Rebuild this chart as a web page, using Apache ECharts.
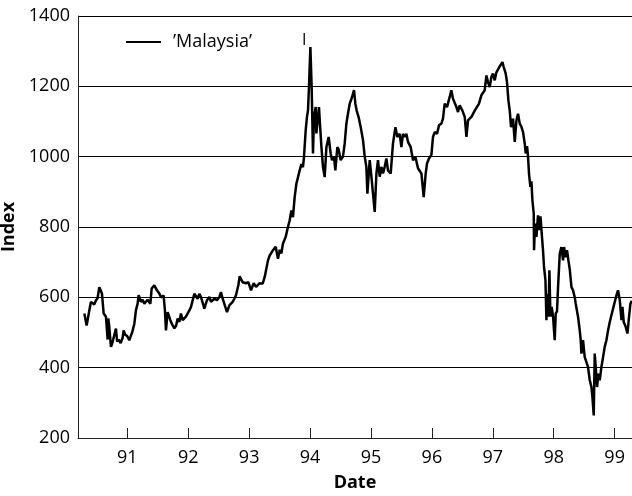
<!DOCTYPE html>
<html>
<head>
<meta charset="utf-8">
<script src="https://cdn.jsdelivr.net/npm/echarts@6/dist/echarts.min.js"></script>
<style>
html,body{margin:0;padding:0;background:#fff;}
#chart{width:632px;height:496px;}
</style>
</head>
<body>
<div id="chart"></div>
<script>
// Decimal year (e.g. 93.5 = mid-1993)
const dates = [
90.294, 90.332, 90.376, 90.402, 90.430, 90.458, 90.484, 90.512, 90.540, 90.567,
90.583, 90.611, 90.649, 90.665, 90.677, 90.688, 90.701, 90.731, 90.750, 90.775,
90.813, 90.833, 90.857, 90.890, 90.923, 90.939, 90.964, 90.997, 91.033, 91.054,
91.079, 91.115, 91.141, 91.169, 91.186, 91.223, 91.251, 91.279, 91.333, 91.378,
91.399, 91.443, 91.486, 91.525, 91.552, 91.596, 91.617, 91.634, 91.662, 91.706,
91.744, 91.772, 91.801, 91.826, 91.854, 91.880, 91.908, 91.962, 91.990, 92.018,
92.044, 92.072, 92.100, 92.126, 92.154, 92.182, 92.209, 92.236, 92.264, 92.307,
92.347, 92.373, 92.429, 92.471, 92.511, 92.537, 92.565, 92.593, 92.636, 92.675,
92.729, 92.757, 92.783, 92.823, 92.844, 92.893, 92.948, 92.987, 93.030, 93.074,
93.112, 93.168, 93.222, 93.255, 93.309, 93.337, 93.391, 93.435, 93.473, 93.501,
93.529, 93.555, 93.599, 93.637, 93.665, 93.693, 93.719, 93.747, 93.775, 93.801,
93.829, 93.857, 93.883, 93.900, 93.928, 93.949, 93.966, 93.982, 94.005, 94.026,
94.048, 94.064, 94.092, 94.103, 94.125, 94.146, 94.169, 94.186, 94.212, 94.240,
94.268, 94.305, 94.338, 94.360, 94.392, 94.415, 94.448, 94.470, 94.502, 94.540,
94.568, 94.596, 94.622, 94.650, 94.688, 94.721, 94.744, 94.765, 94.798, 94.831,
94.869, 94.897, 94.924, 94.941, 94.979, 95.007, 95.033, 95.061, 95.089, 95.115,
95.143, 95.171, 95.197, 95.225, 95.253, 95.279, 95.323, 95.361, 95.401, 95.433,
95.471, 95.499, 95.525, 95.553, 95.581, 95.608, 95.652, 95.690, 95.729, 95.772,
95.800, 95.828, 95.865, 95.898, 95.920, 95.952, 95.992, 96.018, 96.046, 96.084,
96.117, 96.156, 96.182, 96.210, 96.248, 96.292, 96.320, 96.346, 96.402, 96.429,
96.456, 96.501, 96.539, 96.567, 96.593, 96.621, 96.649, 96.675, 96.703, 96.731,
96.773, 96.813, 96.839, 96.867, 96.895, 96.921, 96.949, 96.977, 97.003, 97.031,
97.059, 97.085, 97.125, 97.158, 97.179, 97.212, 97.233, 97.256, 97.278, 97.299,
97.332, 97.360, 97.388, 97.414, 97.442, 97.470, 97.496, 97.524, 97.540, 97.562,
97.578, 97.594, 97.617, 97.634, 97.650, 97.672, 97.677, 97.693, 97.716, 97.742,
97.759, 97.782, 97.803, 97.824, 97.841, 97.864, 97.880, 97.897, 97.913, 97.929,
97.946, 97.967, 97.989, 98.016, 98.033, 98.054, 98.071, 98.099, 98.126, 98.153,
98.169, 98.197, 98.218, 98.241, 98.263, 98.291, 98.317, 98.345, 98.361, 98.389,
98.399, 98.427, 98.443, 98.455, 98.481, 98.509, 98.537, 98.563, 98.591, 98.619,
98.635, 98.657, 98.673, 98.690, 98.711, 98.734, 98.755, 98.783, 98.810, 98.837,
98.865, 98.892, 98.920, 98.947, 98.974, 99.002, 99.030, 99.056, 99.084, 99.112,
99.128, 99.149, 99.182, 99.210, 99.236, 99.259, 99.281
];

const malaysia = [
554, 520, 563, 587, 582, 580, 591, 598, 629, 631,
611, 554, 545, 549, 480, 540, 520, 459, 468, 465,
511, 474, 480, 470, 485, 506, 494, 490, 478, 489,
500, 525, 563, 582, 606, 587, 593, 582, 593, 582,
625, 634, 620, 611, 600, 605, 563, 506, 558, 535,
520, 512, 520, 540, 530, 554, 535, 545, 549, 563,
572, 572, 610, 615, 596, 610, 601, 606, 568, 592,
601, 587, 596, 592, 601, 615, 596, 592, 558, 577,
587, 596, 606, 635, 660, 643, 640, 643, 620, 640,
630, 640, 639, 658, 705, 719, 734, 744, 710, 735,
725, 753, 772, 800, 819, 847, 828, 885, 923, 941,
961, 979, 970, 999, 1075, 1113, 1132, 1198, 1312, 1198,
1009, 1113, 1141, 1066, 1103, 1141, 1075, 1028, 971, 942,
1027, 1056, 1009, 990, 1000, 961, 1027, 1020, 990, 1000,
1037, 1094, 1122, 1150, 1169, 1189, 1150, 1131, 1112, 1084,
1047, 1000, 971, 895, 990, 943, 895, 843, 952, 990,
943, 971, 952, 971, 995, 961, 952, 1037, 1084, 1056,
1065, 1027, 1065, 1056, 1065, 1042, 1027, 990, 1000, 967,
971, 952, 885, 952, 981, 995, 1005, 1056, 1070, 1065,
1089, 1094, 1108, 1151, 1141, 1170, 1189, 1165, 1141, 1127,
1146, 1131, 1113, 1056, 1103, 1098, 1113, 1108, 1131, 1136,
1151, 1175, 1179, 1189, 1231, 1212, 1198, 1227, 1236, 1217,
1240, 1236, 1260, 1269, 1255, 1236, 1212, 1160, 1131, 1084,
1108, 1042, 1103, 1122, 1094, 1085, 1070, 1037, 1009, 1030,
1000, 952, 914, 930, 876, 838, 734, 810, 772, 833,
791, 830, 781, 734, 686, 649, 535, 610, 545, 677,
545, 573, 545, 478, 554, 560, 629, 724, 743, 705,
743, 714, 734, 705, 680, 629, 620, 600, 582, 580,
545, 506, 478, 440, 478, 430, 435, 402, 365, 345,
317, 264, 440, 400, 345, 383, 364, 402, 430, 459,
478, 506, 530, 549, 568, 587, 606, 620, 592, 535,
573, 530, 516, 497, 544, 582, 590
];

const xTicks = [91, 92, 93, 94, 95, 96, 97, 98, 99];
const yTicks = [200, 400, 600, 800, 1000, 1200, 1400];
const seriesName = '\u2019Malaysia\u2019';

const FONT = 'Open Sans';
const chart = echarts.init(document.getElementById('chart'), null, {renderer: 'canvas'});
const seriesData = dates.map((d, i) => [d, malaysia[i]]);

chart.setOption({
  animation: false,
  backgroundColor: '#fff',
  textStyle: {fontFamily: FONT, color: '#000'},
  title: {
    text: 'I', left: 297, top: 27,
    textStyle: {fontFamily: FONT, fontSize: 16, fontWeight: 'normal', color: '#000'}
  },
  legend: {
    left: 121, top: 28,
    icon: 'rect', itemWidth: 35, itemHeight: 2,
    data: [seriesName],
    textStyle: {fontFamily: FONT, fontSize: 18, color: '#000', padding: [0, 0, 0, 7]}
  },
  grid: {left: 78, right: 0, top: 16, bottom: 58, containLabel: false, outerBoundsMode: 'none'},
  xAxis: {
    type: 'value',
    min: 90.19, max: 99.285,
    name: 'Date', nameLocation: 'middle', nameGap: 36,
    nameTextStyle: {fontFamily: FONT, fontSize: 18, fontWeight: 'bold', color: '#000'},
    axisLine: {show: true, lineStyle: {color: '#222', width: 1}},
    axisTick: {show: true, inside: true, length: 10, customValues: xTicks, lineStyle: {color: '#222', width: 1}},
    axisLabel: {customValues: xTicks, formatter: v => String(Math.round(v)), fontFamily: FONT, fontSize: 18, color: '#000', margin: 11},
    splitLine: {show: false}
  },
  yAxis: {
    type: 'value',
    min: yTicks[0], max: yTicks[yTicks.length - 1], interval: 200,
    name: 'Index', nameLocation: 'middle', nameGap: 56, nameRotate: 90,
    nameTextStyle: {fontFamily: FONT, fontSize: 18, fontWeight: 'bold', color: '#000'},
    axisLine: {show: true, lineStyle: {color: '#222', width: 1}},
    axisTick: {show: false},
    axisLabel: {formatter: v => String(v), fontFamily: FONT, fontSize: 18, color: '#000', margin: 8},
    splitLine: {show: true, lineStyle: {color: '#000', width: 1}}
  },
  series: [{
    name: seriesName,
    type: 'line',
    data: seriesData,
    showSymbol: false,
    symbol: 'none',
    lineStyle: {color: '#000', width: 2.5},
    itemStyle: {color: '#000'},
    sampling: null,
    z: 3
  }]
});
</script>
</body>
</html>
